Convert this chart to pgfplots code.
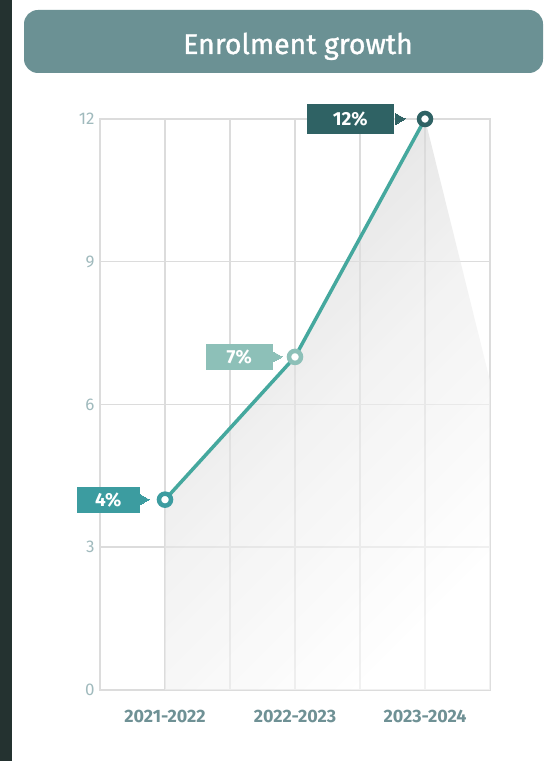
\documentclass[border=0pt]{standalone}
\usepackage{fontspec}
\setmainfont{Fira Sans}
\newfontfamily\titlefont{Fira Sans}[FakeBold=1.2]
\usepackage{pgfplots}
\pgfplotsset{compat=1.18}
\definecolor{titlebg}{HTML}{6B9194}
\definecolor{strip}{HTML}{243230}
\definecolor{gridgray}{HTML}{DCDCDC}
\definecolor{ytickc}{HTML}{A0BABD}
\definecolor{xtickc}{HTML}{6F9195}
\definecolor{linec}{HTML}{45A89E}
\definecolor{cA}{HTML}{3C9CA0}
\definecolor{cB}{HTML}{8DC0B8}
\definecolor{cC}{HTML}{2F6264}
\begin{document}
\begin{tikzpicture}
\fill[white] (0bp,0bp) rectangle (550bp,761bp);
\fill[strip] (0bp,0bp) rectangle (12bp,761bp);
\fill[titlebg, rounded corners=14bp] (24bp,688bp) rectangle (543bp,751bp);
\node[text=white, anchor=base, font=\titlefont\fontsize{28.5}{32}\selectfont] at (298bp,707bp) {Enrolment growth};
\begin{axis}[
  at={(100bp,71bp)}, anchor=south west,
  scale only axis, width=390bp, height=571bp,
  xmin=0.5, xmax=3.5, ymin=0, ymax=12,
  clip=false,
  axis line style={draw=gridgray, line width=1.5bp},
  grid=both,
  major grid style={draw=gridgray, line width=1.5bp},
  minor grid style={draw=gridgray, line width=1.5bp},
  xtick={1,2,3}, minor xtick={1.5,2.5},
  xticklabels={2021-2022,2022-2023,2023-2024},
  ytick={0,3,6,9,12},
  major tick length=0pt, minor tick length=0pt,
  tick style={draw=none},
  /pgf/number format/assume math mode=true,
  yticklabel style={font=\fontsize{17}{19}\selectfont, text=ytickc, xshift=-2bp},
  xticklabel style={font=\fontsize{18}{20}\selectfont\bfseries, text=xtickc, yshift=-17bp},
]
\addplot[draw=none, top color=black!20, bottom color=white, middle color=black!8, shading angle=45, fill opacity=0.6]
  coordinates {(1,4) (2,7) (3,12) (3.5,6.5) (3.5,0) (1,0)} -- cycle;
\addplot[linec, line width=3.5bp, mark=none] coordinates {(1,4) (2,7) (3,12)};
% callout pointers
\addplot[cA, only marks, mark=triangle*, mark size=5.5bp, mark options={xshift=-21.5bp, rotate=-90, fill=cA, draw=cA, line width=0pt}] coordinates {(1,4)};
\addplot[cB, only marks, mark=triangle*, mark size=5.5bp, mark options={xshift=-18.5bp, rotate=-90, fill=cB, draw=cB, line width=0pt}] coordinates {(2,7)};
\addplot[cC, only marks, mark=triangle*, mark size=6.5bp, mark options={xshift=-26.5bp, rotate=-90, fill=cC, draw=cC, line width=0pt}] coordinates {(3,12)};
% markers and callout boxes
\addplot[cA, only marks, mark=*, mark size=6bp, mark options={draw=cA, fill=white, line width=4.5bp},
  nodes near coords={4\%},
  every node near coord/.style={rectangle, fill=cA, text=white,
    font=\fontsize{19}{21}\selectfont\bfseries, inner sep=0pt,
    minimum width=63bp, minimum height=26bp, anchor=east, xshift=-23bp}]
  coordinates {(1,4)};
\addplot[cB, only marks, mark=*, mark size=6bp, mark options={draw=cB, fill=white, line width=4.5bp},
  nodes near coords={7\%},
  every node near coord/.style={rectangle, fill=cB, text=white,
    font=\fontsize{19}{21}\selectfont\bfseries, inner sep=0pt,
    minimum width=67bp, minimum height=26bp, anchor=east, xshift=-20bp}]
  coordinates {(2,7)};
\addplot[cC, only marks, mark=*, mark size=6bp, mark options={draw=cC, fill=white, line width=4.5bp},
  nodes near coords={12\%},
  every node near coord/.style={rectangle, fill=cC, text=white,
    font=\fontsize{19}{21}\selectfont\bfseries, inner sep=0pt,
    minimum width=87bp, minimum height=30bp, anchor=east, xshift=-29bp}]
  coordinates {(3,12)};
\end{axis}
\end{tikzpicture}
\end{document}
